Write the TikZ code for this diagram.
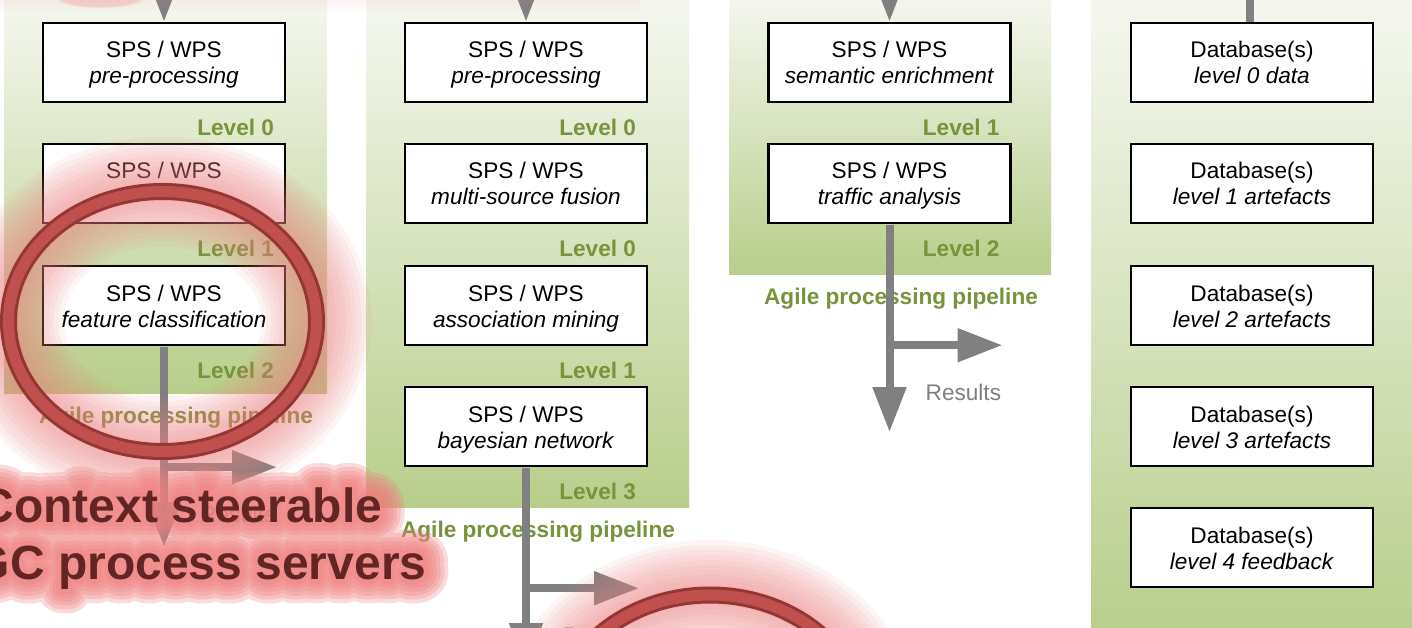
\documentclass[tikz,border=0pt]{standalone}
\usepackage{fontspec}
\setmainfont{Liberation Sans}
% emboldened copies of the bold face, used for the soft halo behind the caption
\newfontfamily\glowA[FakeBold=100]{Liberation Sans Bold}
\newfontfamily\glowB[FakeBold=84]{Liberation Sans Bold}
\newfontfamily\glowC[FakeBold=68]{Liberation Sans Bold}
\newfontfamily\glowD[FakeBold=52]{Liberation Sans Bold}
\newfontfamily\glowE[FakeBold=36]{Liberation Sans Bold}
\newfontfamily\glowF[FakeBold=20]{Liberation Sans Bold}
\usetikzlibrary{arrows.meta,fadings,calc}

\definecolor{flowgray}{HTML}{808080}
\definecolor{resultgray}{HTML}{7F7F7F}
\definecolor{levelgreen}{HTML}{77933C}
\definecolor{panetop}{HTML}{F6F8F1}
\definecolor{panebottom}{HTML}{B8CE8B}
\definecolor{ringred}{HTML}{C0504D}
\definecolor{ringedge}{HTML}{943634}
\definecolor{glowpink}{HTML}{F07E7E}
\definecolor{notered}{HTML}{632523}

\tikzfading[name=hazedown, top color=transparent!0, bottom color=transparent!100]

% two-line service label: name on top, role in italics below
\newcommand{\svclines}[2]{\rule{0pt}{24.8pt}#1\\\textit{#2}\strut}
\newcommand{\ctxlineA}{Context steerable}
\newcommand{\ctxlineB}{OGC process servers}

\tikzset{
  basefont/.style={font=\fontsize{22.6}{26}\selectfont},
  svcbox/.style={draw=black, line width=2.4pt, fill=white, minimum width=242pt,
    minimum height=79pt, inner sep=0pt, align=center, basefont},
  levellabel/.style={anchor=base east, inner sep=0pt, text=levelgreen,
    font=\fontsize{22.6}{26}\selectfont\bfseries},
  pipelabel/.style={anchor=base, inner sep=0pt, text=levelgreen,
    font=\fontsize{22.6}{26}\selectfont\bfseries},
  resultlabel/.style={anchor=base west, inner sep=0pt, text=resultgray, basefont},
  flow/.style={draw=flowgray, line width=8pt, -{Triangle[length=45pt,width=32pt]}},
  flowline/.style={draw=flowgray, line width=8pt},
  pane/.style={top color=panetop, bottom color=panebottom, draw=none},
  ctxtext/.style={anchor=base, inner sep=0pt},
  halo/.style={draw=glowpink, opacity=0.08},
}

% one layer of the halo around the caption
\newcommand{\ctxglow}[2]{%
  \begin{scope}[transparency group, opacity=0.28]
    \begin{scope}[line join=round]
      \path (-80,430) rectangle (500,640);
      \node[ctxtext, text=glowpink, font=\fontsize{48}{57}#1] (glowA#2) at (181,522) {\ctxlineA};
      \node[ctxtext, text=glowpink, font=\fontsize{48}{57}#1] (glowB#2) at (181,579) {\ctxlineB};
    \end{scope}
  \end{scope}}

\begin{document}
\begin{tikzpicture}[x=1pt,y=-1pt]
\useasboundingbox (0,0) rectangle (1412,628);
\clip (0,0) rectangle (1412,628);
\fill[white] (0,0) rectangle (1412,628);

% pipeline panes and the storage pane
\shade[pane] (4,-10) rectangle (327,393);
\shade[pane] (366,-10) rectangle (689,507);
\shade[pane] (729,-10) rectangle (1051,274);
\shade[pane] (1091,-10) rectangle (1422,640);

% pipeline 1
\node[svcbox] (p1a) at (164,62.5) {\svclines{SPS / WPS}{pre-processing}};
\node[svcbox] (p1b) at (164,183.5) {\svclines{SPS / WPS}{}};
\node[svcbox] (p1c) at (164,305.5) {\svclines{SPS / WPS}{feature classification}};
\node[levellabel] (l1a) at ($(p1a.south east)+(-12,32)$) {Level 0};
\node[levellabel] (l1b) at ($(p1b.south east)+(-12,32)$) {Level 1};
\node[levellabel] (l1c) at ($(p1c.south east)+(-12,32)$) {Level 2};
\node[pipelabel] (pipe1) at (176,423) {Agile processing pipeline};

% pipeline 2
\node[svcbox] (p2a) at (526,62.5) {\svclines{SPS / WPS}{pre-processing}};
\node[svcbox] (p2b) at (526,183.5) {\svclines{SPS / WPS}{multi-source fusion}};
\node[svcbox] (p2c) at (526,305.5) {\svclines{SPS / WPS}{association mining}};
\node[svcbox] (p2d) at (526,426.5) {\svclines{SPS / WPS}{bayesian network}};
\node[levellabel] (l2a) at ($(p2a.south east)+(-12,32)$) {Level 0};
\node[levellabel] (l2b) at ($(p2b.south east)+(-12,32)$) {Level 0};
\node[levellabel] (l2c) at ($(p2c.south east)+(-12,32)$) {Level 1};
\node[levellabel] (l2d) at ($(p2d.south east)+(-12,32)$) {Level 3};
\node[pipelabel] (pipe2) at (538,537) {Agile processing pipeline};

% pipeline 3
\node[svcbox] (p3a) at (889.5,62.5) {\svclines{SPS / WPS}{semantic enrichment}};
\node[svcbox] (p3b) at (889.5,183.5) {\svclines{SPS / WPS}{traffic analysis}};
\node[levellabel] (l3a) at ($(p3a.south east)+(-12,32)$) {Level 1};
\node[levellabel] (l3b) at ($(p3b.south east)+(-12,32)$) {Level 2};
\node[pipelabel] (pipe3) at (901,304) {Agile processing pipeline};

% databases
\node[svcbox] (db0) at (1252,62.5) {\svclines{Database(s)}{level 0 data}};
\node[svcbox] (db1) at (1252,183.5) {\svclines{Database(s)}{level 1 artefacts}};
\node[svcbox] (db2) at (1252,305.5) {\svclines{Database(s)}{level 2 artefacts}};
\node[svcbox] (db3) at (1252,426.5) {\svclines{Database(s)}{level 3 artefacts}};
\node[svcbox] (db4) at (1252,547.5) {\svclines{Database(s)}{level 4 feedback}};

% incoming flows
\coordinate (feed1) at (164,-40);
\coordinate (feed2) at (526,-40);
\coordinate (feed3) at (889.5,-40);
\coordinate (feed4) at (1250,-10);
\draw[flow] (feed1) -- (p1a.north);
\draw[flow] (feed2) -- (p2a.north);
\draw[flow] (feed3) -- (p3a.north);
\draw[flowline] (feed4) -- (feed4 |- db0.north);

% result flows
\foreach \b/\k/\d in {p1c/1/201, p2d/2/201, p3b/3/208} {
  \coordinate (src\k) at ($(\b.south)+(0,1.2)$);
  \coordinate (fork\k) at ($(\b.south)+(0,121)$);
  \coordinate (down\k) at ($(\b.south)+(0,\d)$);
  \coordinate (side\k) at ($(fork\k)+(113,0)$);
  \draw[flow] (src\k) -- (down\k);
  \draw[flow] (fork\k) -- (side\k);
  \node[resultlabel] (res\k) at ($(\b.south)+(36,176)$) {Results};
}

% highlight halos
\foreach \w in {110,100,90,80,70,60,50,40,30,20} {
  \draw[halo, line width=\w pt] (162.5,321.5) ellipse [x radius=154pt, y radius=130pt];
  \draw[halo, line width=\w pt] (710,725) ellipse [x radius=154pt, y radius=130pt];
}
\ctxglow{\glowA}{1}
\ctxglow{\glowB}{2}
\ctxglow{\glowC}{3}
\ctxglow{\glowD}{4}
\ctxglow{\glowE}{5}
\ctxglow{\glowF}{6}

% highlight rings
\foreach \c in {(162.5,321.5), (710,725)} {
  \draw[ringedge, line width=17pt] \c ellipse [x radius=154pt, y radius=130pt];
  \draw[ringred, line width=11pt] \c ellipse [x radius=154pt, y radius=130pt];
}

% faint haze along the top edge
\fill[glowpink, opacity=0.15, path fading=hazedown] (0,-6) rectangle (640,12);
\fill[glowpink, opacity=0.3, path fading=circle with fuzzy edge 20 percent]
  (100,-2) ellipse [x radius=45pt, y radius=10pt];

% caption
\node[ctxtext, text=notered, font=\fontsize{48}{57}\selectfont\bfseries] (ctxA) at (181,522) {\ctxlineA};
\node[ctxtext, text=notered, font=\fontsize{48}{57}\selectfont\bfseries] (ctxB) at (181,579) {\ctxlineB};
\end{tikzpicture}
\end{document}
